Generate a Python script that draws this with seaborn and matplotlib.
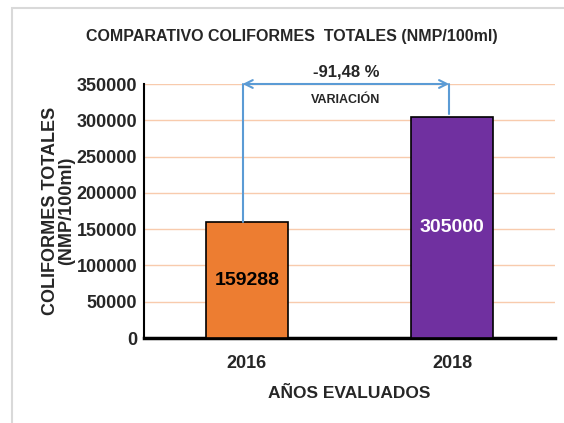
import pandas as pd
import seaborn as sns
import matplotlib.pyplot as plt
from matplotlib.patches import Rectangle

# Datos
years = ['2016', '2018']
coliformes = [159288, 305000]
bar_colors = ['#ED7D31', '#7030A0']
label_colors = ['black', 'white']
variacion = '-91,48 %'

df = pd.DataFrame({'year': years, 'value': coliformes})

sns.set_theme(style='white')
plt.rcParams['font.family'] = ['Liberation Sans', 'DejaVu Sans']

fig = plt.figure(figsize=(5.64, 4.23), dpi=100)
fig.patches.append(Rectangle((12 / 564, -0.1), 1.2, 1 - 8 / 423 + 0.1, transform=fig.transFigure,
                             fill=False, edgecolor='#D9D9D9', linewidth=1.5, zorder=0))
ax = fig.add_axes([144 / 564, 1 - 338 / 423, (555 - 144) / 564, (338 - 84) / 423])

sns.barplot(data=df, x='year', y='value', hue='year', palette=bar_colors, width=0.4,
            saturation=1, edgecolor='black', linewidth=1.2, legend=False, ax=ax, zorder=3)

ax.set_ylim(0, 350000)
ax.set_xlim(-0.5, 1.5)
ax.set_yticks(range(0, 350001, 50000))
ax.yaxis.grid(True, color='#F8CBAD', linewidth=1)
ax.set_axisbelow(True)
for s in ['top', 'right']:
    ax.spines[s].set_visible(False)
ax.spines['left'].set_color('black')
ax.spines['left'].set_linewidth(1.5)
ax.spines['bottom'].set_color('black')
ax.spines['bottom'].set_linewidth(2.5)
ax.tick_params(axis='both', length=0, labelsize=13)
for t in ax.get_xticklabels() + ax.get_yticklabels():
    t.set_fontweight('bold')
ax.tick_params(axis='x', pad=12)
ax.tick_params(axis='y', pad=5)

ax.set_xlabel('AÑOS EVALUADOS', fontsize=12.5, fontweight='bold', labelpad=10)
ax.set_ylabel('COLIFORMES TOTALES\n(NMP/100ml)', fontsize=13, fontweight='bold',
              labelpad=1, linespacing=0.95)
fig.text(292 / 564, 1 - 37 / 423, 'COMPARATIVO COLIFORMES  TOTALES (NMP/100ml)',
         ha='center', va='center', fontsize=11.5, fontweight='bold')

# etiquetas de datos
for i, v in enumerate(coliformes):
    ax.text(i, v / 2, str(v), ha='center', va='center', fontsize=14,
            fontweight='bold', color=label_colors[i], zorder=5)

# flecha de variación
blue = '#5B9BD5'
x1, x2 = -0.02, 0.985
ax.plot([x1, x1], [coliformes[0], 350000], color=blue, lw=1.5, zorder=4, clip_on=False)
ax.plot([x2, x2], [coliformes[1] + 3000, 350000], color=blue, lw=1.5, zorder=4, clip_on=False)
ax.annotate('', xy=(x1, 350000), xytext=(x2, 350000),
            arrowprops=dict(arrowstyle='<->', color=blue, lw=1.5, mutation_scale=14,
                            shrinkA=0, shrinkB=0), annotation_clip=False)
ax.text((x1 + x2) / 2, 367000, variacion, ha='center', va='center', fontsize=12,
        fontweight='bold')
ax.text((x1 + x2) / 2, 328000, 'VARIACIÓN', ha='center', va='center', fontsize=9,
        fontweight='bold')

plt.savefig('out.png', dpi=100)
